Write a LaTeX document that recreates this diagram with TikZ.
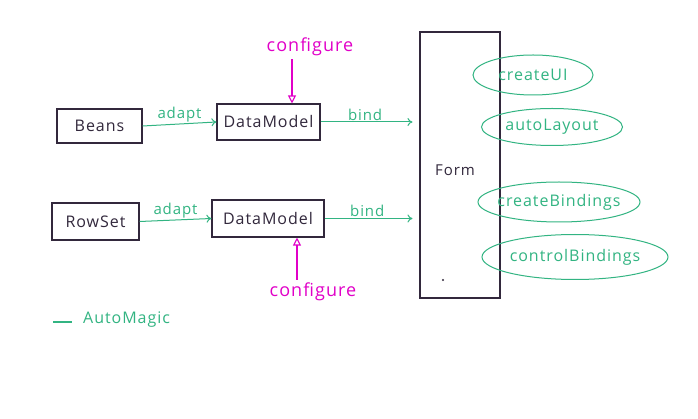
\documentclass[tikz,border=0pt]{standalone}
\usepackage{fontspec}
\setmainfont[LetterSpace=6]{Open Sans}
\usetikzlibrary{shapes.geometric,arrows.meta,calc}
\definecolor{ink}{RGB}{50,40,60}
\definecolor{grn}{RGB}{50,180,130}
\definecolor{mag}{RGB}{225,0,200}
\tikzset{
  boxn/.style={draw=ink,line width=1.1pt,minimum height=#1,inner sep=0pt,font=\fontsize{16}{18}\selectfont,text=ink},
  ovaln/.style={ellipse,draw=grn,line width=1pt,inner ysep=0pt,inner xsep=-20pt,text=grn,font=\fontsize{16}{18}\selectfont},
  garrow/.style={draw=grn,line width=1pt,-{To[length=5pt,width=8pt]}},
  marrow/.style={draw=mag,line width=1.1pt,-{Triangle[open,length=8pt,width=8pt]}},
  glbl/.style={text=grn,font=\fontsize{15}{17}\selectfont,inner sep=1pt},
  mlbl/.style={text=mag,font=\fontsize{18}{20}\selectfont,inner sep=1pt}
}
\begin{document}
\begin{tikzpicture}[x=1pt,y=-1pt]
\useasboundingbox[fill=white] (0,0) rectangle (698,419);
% boxes
\node[boxn=34pt,minimum width=85pt] (beans) at (99.5,126) {Beans};
\node[boxn=36pt,minimum width=103pt] (dm1) at (268.5,122) {DataModel};
\node[boxn=37pt,minimum width=87pt] (rowset) at (95.5,221.5) {RowSet};
\node[boxn=37pt,minimum width=112pt] (dm2) at (268,218.5) {DataModel};
\node[draw=ink,line width=1.1pt,minimum width=80pt,minimum height=266pt,inner sep=0pt] (form) at (460,165) {};
\node[text=ink,font=\fontsize{15}{17}\selectfont] (formlbl) at (455,170) {Form};
\fill[ink] (443,280) circle (1.2pt);
% ovals
\node[ovaln,minimum width=120pt,minimum height=40pt] (cui) at (533,75) {createUI};
\node[ovaln,minimum width=141pt,minimum height=37pt] (al) at (552,127) {autoLayout};
\node[ovaln,minimum width=162pt,minimum height=40pt] (cb) at (559,202) {createBindings};
\node[ovaln,minimum width=186pt,minimum height=45pt] (ctb) at (575,257) {controlBindings};
% adapt arrows
\draw[garrow] (beans.east) -- node[glbl,above] {adapt} (dm1.west);
\draw[garrow] (rowset.east) -- node[glbl,above] {adapt} (dm2.west);
% bind arrows
\draw[garrow,shorten >=7pt] (dm1.east) -- node[glbl,above,pos=0.45] {bind} (dm1.east -| form.west);
\draw[garrow,shorten >=7pt] (dm2.east) -- node[glbl,above,pos=0.45] {bind} (dm2.east -| form.west);
% configure
\node[mlbl] (cfg1) at (310,47) {configure};
\node[mlbl] (cfg2) at (313,292) {configure};
\coordinate (c1) at ($(cfg1.south)+(-18,2)$);
\coordinate (c2) at ($(cfg2.north)+(-16,-2)$);
\draw[marrow] (c1) -- (c1 |- dm1.north);
\draw[marrow] (c2) -- (c2 |- dm2.south);
% legend
\coordinate (lg1) at (53,322);
\coordinate (lg2) at (72,322);
\draw[grn,line width=2pt] (lg1) -- (lg2);
\node[glbl,anchor=west,font=\fontsize{16}{18}\selectfont] (am) at (82,320) {AutoMagic};
\end{tikzpicture}
\end{document}
